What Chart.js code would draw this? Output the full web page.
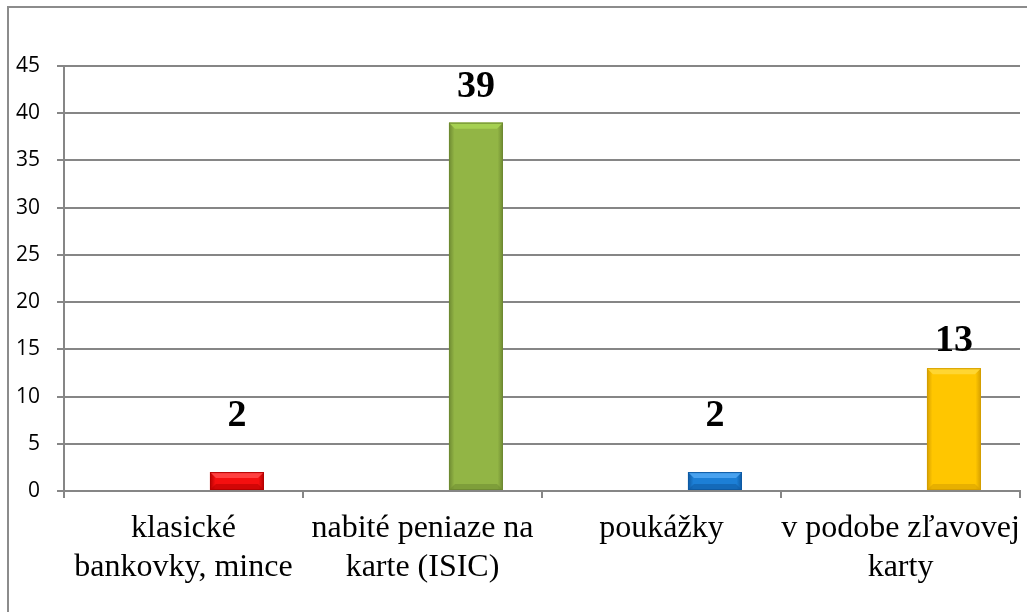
<!DOCTYPE html>
<html>
<head>
<meta charset="utf-8">
<script src="https://cdn.jsdelivr.net/npm/chart.js@4/dist/chart.umd.min.js"></script>
<style>
  html, body { margin: 0; padding: 0; background: #fff; }
  #wrap { width: 1027px; height: 612px; position: relative; }
</style>
</head>
<body>
<div id="wrap"><canvas id="c" width="1027" height="612"></canvas></div>
<script>
const categories = [
  ["klasické", "bankovky, mince"],
  ["nabité peniaze na", "karte (ISIC)"],
  ["poukážky"],
  ["v podobe zľavovej", "karty"]
];
const values = [2, 39, 2, 13];
const yTicks = [0, 5, 10, 15, 20, 25, 30, 35, 40, 45];

const palette = [
  { mid: '#f50f0f', light: '#ff4040', dark: '#b40000' },
  { mid: '#92b545', light: '#a6d052', dark: '#6e8a32' },
  { mid: '#1c7fd6', light: '#49a2ef', dark: '#0e5aa3' },
  { mid: '#ffc600', light: '#ffd632', dark: '#d49e00' }
];

const frame = {
  id: 'frame',
  beforeDraw(chart) {
    const c = chart.ctx;
    c.save();
    c.strokeStyle = '#8c8c8c';
    c.lineWidth = 2;
    c.beginPath();
    c.moveTo(8, 612);
    c.lineTo(8, 7);
    c.lineTo(1027, 7);
    c.stroke();
    c.restore();
  }
};

const bevel = {
  id: 'bevel',
  afterDatasetsDraw(chart) {
    const meta = chart.getDatasetMeta(1);
    const c = chart.ctx;
    meta.data.forEach((el, i) => {
      const p = palette[i];
      const w = el.width, x0 = el.x - w / 2, x1 = el.x + w / 2;
      const top = el.y, bot = el.base;
      const g = c.createLinearGradient(x0, 0, x1, 0);
      g.addColorStop(0, p.dark);
      g.addColorStop(0.1, p.mid);
      g.addColorStop(0.9, p.mid);
      g.addColorStop(1, p.dark);
      const b = Math.min(6, (bot - top) / 3);
      c.save();
      c.fillStyle = g;
      c.fillRect(x0, top, w, bot - top);
      c.fillStyle = p.light;
      c.beginPath();
      c.moveTo(x0, top); c.lineTo(x1, top); c.lineTo(x1 - b, top + b); c.lineTo(x0 + b, top + b);
      c.closePath(); c.fill();
      c.fillStyle = p.dark;
      c.globalAlpha = 0.55;
      c.beginPath();
      c.moveTo(x0, bot); c.lineTo(x1, bot); c.lineTo(x1 - b, bot - b); c.lineTo(x0 + b, bot - b);
      c.closePath(); c.fill();
      c.globalAlpha = 1;
      c.strokeStyle = p.dark;
      c.lineWidth = 1;
      c.strokeRect(x0 + 0.5, top + 0.5, w - 1, bot - top - 1);
      c.restore();
    });
  }
};

const valueLabels = {
  id: 'valueLabels',
  afterDatasetsDraw(chart, args, opts) {
    const meta = chart.getDatasetMeta(1);
    const c = chart.ctx;
    c.save();
    c.font = 'bold 38px "Liberation Serif", "Times New Roman", serif';
    c.fillStyle = '#000';
    c.textAlign = 'center';
    c.textBaseline = 'middle';
    meta.data.forEach((el, i) => {
      c.fillText(String(values[i]), el.x, el.y - opts.offsets[i]);
    });
    c.restore();
  }
};

new Chart(document.getElementById('c'), {
  type: 'bar',
  data: {
    labels: categories,
    datasets: [
      { data: values.map(() => null), backgroundColor: 'rgba(0,0,0,0)' },
      { data: values, backgroundColor: (ctx) => (palette[ctx.dataIndex] || palette[0]).mid, borderWidth: 0 }
    ]
  },
  options: {
    responsive: false,
    animation: false,
    devicePixelRatio: 1,
    layout: { padding: { top: 66, right: 7, left: 0, bottom: 0 } },
    plugins: {
      legend: { display: false },
      tooltip: { enabled: false },
      valueLabels: { offsets: [56, 35, 56, 27] }
    },
    datasets: { bar: { categoryPercentage: 0.895, barPercentage: 0.505 } },
    scales: {
      x: {
        grid: { display: true, drawOnChartArea: false, offset: true, tickLength: 7, color: '#868686', lineWidth: 2 },
        border: { display: true, color: '#868686', width: 2 },
        ticks: {
          color: '#000',
          font: { family: '"Liberation Serif", "Times New Roman", serif', size: 32, lineHeight: 1.19 },
          maxRotation: 0, minRotation: 0, autoSkip: false, padding: 12
        },
        afterFit(scale) { scale.height = 121; scale.paddingLeft = 0; scale.paddingRight = 0; }
      },
      y: {
        min: 0, max: 45,
        afterBuildTicks(scale) { scale.ticks = yTicks.map(v => ({ value: v })); },
        grid: { color: '#868686', lineWidth: 2, tickLength: 7, drawTicks: true },
        border: { display: true, color: '#868686', width: 2 },
        ticks: {
          color: '#000',
          font: { family: '"Open Sans", "Liberation Sans", sans-serif', size: 21 },
          padding: 17
        },
        afterFit(scale) { scale.width = 64; scale.paddingTop = 0; scale.paddingBottom = 0; }
      }
    }
  },
  plugins: [frame, bevel, valueLabels]
});
</script>
</body>
</html>
